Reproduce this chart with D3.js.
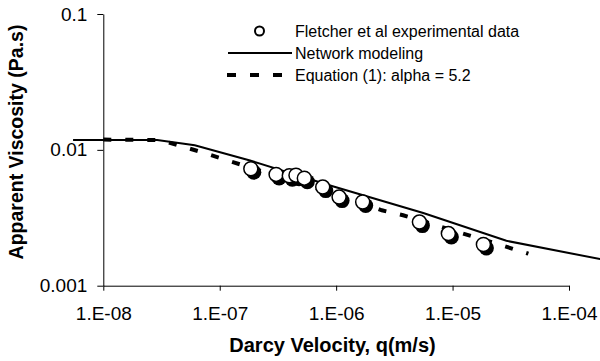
<!DOCTYPE html>
<html>
<head>
<meta charset="utf-8">
<script src="https://cdn.jsdelivr.net/npm/d3@7"></script>
<style>
  body { margin: 0; background: #fff; }
  text { font-family: "Liberation Sans", Arial, sans-serif; fill: #000; }
</style>
</head>
<body>
<div id="chart"></div>
<script>
let width = 600,
    height = 361,
    margin = ({ top: 14, right: 31, bottom: 75.3, left: 103.3 });

// Fletcher et al experimental data
const expQ = [1.85e-7, 3.05e-7, 3.96e-7, 4.52e-7, 5.33e-7, 7.67e-7, 1.06e-6, 1.69e-6, 5.19e-6, 9.2e-6, 1.84e-5];
const expMu = [0.00726, 0.00659, 0.00645, 0.00651, 0.00619, 0.00532, 0.00449, 0.00413, 0.00294, 0.00242, 0.00201];

// Network modeling
const netQ = [5.5e-9, 2.9e-8, 6.1e-8, 1.82e-7, 8.88e-7, 5.6e-6, 2.9e-5, 1.85e-4];
const netMu = [0.0118, 0.0118, 0.0108, 0.00835, 0.00547, 0.00343, 0.00214, 0.00157];

// Equation (1): alpha = 5.2
const eqQ = [1e-8, 3.07e-8, 4.56e-8, 7.33e-8, 1.25e-7, 1e-6, 2.47e-6, 3.76e-6, 2.56e-5, 4.48e-5];
const eqMu = [0.0119, 0.0118, 0.0107, 0.0095, 0.0082, 0.0047, 0.00359, 0.0033, 0.0020, 0.00172];

const xTicks = [1e-8, 1e-7, 1e-6, 1e-5, 1e-4];
const xTickLabels = ["1.E-08", "1.E-07", "1.E-06", "1.E-05", "1.E-04"];
const yTicks = [0.001, 0.01, 0.1];
const yTickLabels = ["0.001", "0.01", "0.1"];

const legendLabels = ["Fletcher et al experimental data", "Network modeling", "Equation (1): alpha = 5.2"];

const svg = d3.select("#chart")
  .append("svg")
  .attr("width", width)
  .attr("height", height);

let x = d3.scaleLog()
  .domain([1e-8, 1e-4])
  .range([margin.left, width - margin.right]);

let y = d3.scaleLog()
  .domain([0.001, 0.1])
  .range([height - margin.bottom, margin.top]);

svg.append("g")
  .attr("transform", `translate(0,${height - margin.bottom})`)
  .call(d3.axisBottom(x).tickValues(xTicks).tickSize(5).tickPadding(16).tickSizeOuter(0)
    .tickFormat((d, i) => xTickLabels[i]));

svg.append("g")
  .attr("transform", `translate(${margin.left},0)`)
  .call(d3.axisLeft(y).tickValues(yTicks).tickSize(6).tickPadding(10).tickSizeOuter(0)
    .tickFormat((d, i) => yTickLabels[i]));

svg.selectAll(".tick text").attr("font-size", 19).attr("font-family", null);
svg.selectAll(".domain, .tick line").attr("stroke", "#000").attr("stroke-width", 1);

// axis titles
svg.append("text")
  .attr("x", 332.5)
  .attr("y", 352)
  .attr("text-anchor", "middle")
  .attr("font-size", 20)
  .attr("font-weight", "bold")
  .text("Darcy Velocity, q(m/s)");

svg.append("text")
  .attr("transform", "translate(23,142) rotate(-90)")
  .attr("text-anchor", "middle")
  .attr("font-size", 19.5)
  .attr("font-weight", "bold")
  .text("Apparent Viscosity (Pa.s)");

let line = d3.line()
  .x(d => x(d[0]))
  .y(d => y(d[1]));

// network modeling
svg.append("path")
  .datum(netQ.map((q, i) => [q, netMu[i]]))
  .attr("fill", "none")
  .attr("stroke", "#000")
  .attr("stroke-width", 2)
  .attr("d", line);

// equation (1)
svg.append("path")
  .datum(eqQ.map((q, i) => [q, eqMu[i]]))
  .attr("fill", "none")
  .attr("stroke", "#000")
  .attr("stroke-width", 4)
  .attr("stroke-dasharray", "8,14")
  .attr("d", line);

// experimental points, with the offset shadow
let pts = svg.append("g")
  .selectAll("g")
  .data(expQ.map((q, i) => [q, expMu[i]]))
  .join("g")
  .attr("transform", d => `translate(${x(d[0])},${y(d[1])})`);

pts.append("circle")
  .attr("cx", 3)
  .attr("cy", 3.5)
  .attr("r", 7.5)
  .attr("fill", "#000");

pts.append("circle")
  .attr("r", 7)
  .attr("fill", "#fff")
  .attr("stroke", "#000")
  .attr("stroke-width", 1.5);

// legend
let legend = svg.append("g");
let rowY = [31, 53, 75];

legend.append("circle")
  .attr("cx", 259.5)
  .attr("cy", rowY[0])
  .attr("r", 4.5)
  .attr("fill", "#fff")
  .attr("stroke", "#000")
  .attr("stroke-width", 2);

legend.append("line")
  .attr("x1", 228).attr("x2", 292)
  .attr("y1", rowY[1]).attr("y2", rowY[1])
  .attr("stroke", "#000")
  .attr("stroke-width", 2);

legend.append("line")
  .attr("x1", 227).attr("x2", 292)
  .attr("y1", rowY[2]).attr("y2", rowY[2])
  .attr("stroke", "#000")
  .attr("stroke-width", 4)
  .attr("stroke-dasharray", "9,14");

legend.selectAll(".lab")
  .data(legendLabels)
  .join("text")
  .attr("class", "lab")
  .attr("x", 295)
  .attr("y", (d, i) => rowY[i] + 6)
  .attr("font-size", 16)
  .text(d => d);
</script>
</body>
</html>
